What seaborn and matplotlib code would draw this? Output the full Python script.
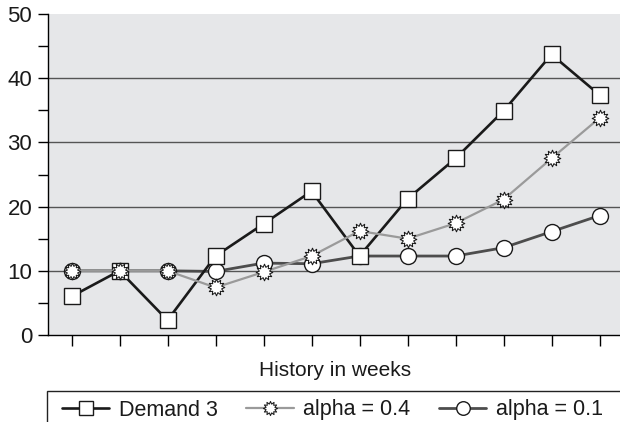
import matplotlib
matplotlib.use("Agg")
import matplotlib.pyplot as plt
from matplotlib.ticker import MultipleLocator
from matplotlib.lines import Line2D
from matplotlib.patches import Rectangle
from matplotlib.path import Path
import numpy as np
import pandas as pd
import seaborn as sns

# Weekly demand history and two exponential-smoothing forecasts
weeks = list(range(1, 13))
demand_3 = [6, 10, 2.3, 12.3, 17.3, 22.4, 12.3, 21.2, 27.5, 34.9, 43.7, 37.4]
alpha_04 = [10, 10, 10, 7.4, 9.8, 12.3, 16.2, 15.0, 17.4, 21.1, 27.5, 33.8]
alpha_01 = [10, 10, 10, 9.9, 11.2, 11.1, 12.3, 12.3, 12.3, 13.6, 16.1, 18.6]
series_labels = ["Demand 3", "alpha = 0.4", "alpha = 0.1"]
y_ticks = [0, 10, 20, 30, 40, 50]

sns.set_theme(style="ticks")
plt.rcParams["font.family"] = ["Liberation Sans", "DejaVu Sans"]

# spiky "burst" marker: 12 points with a wide inner body
n_pts = 12
ang = np.linspace(0, 2 * np.pi, 2 * n_pts, endpoint=False) + np.pi / 2
rad = np.where(np.arange(2 * n_pts) % 2 == 0, 1.0, 0.64)
verts = np.column_stack([rad * np.cos(ang), rad * np.sin(ang)])
verts = np.vstack([verts, verts[:1]])
burst = Path(verts, closed=True)

W, H = 620, 422
fig = plt.figure(figsize=(W / 100, H / 100), dpi=100)
ax = fig.add_axes([47.5 / W, 87 / H, 576 / W, 321 / H])
ax.set_facecolor("#e6e7e9")

df = pd.DataFrame({"week": weeks, series_labels[0]: demand_3,
                   series_labels[1]: alpha_04, series_labels[2]: alpha_01})

styles = {
    series_labels[0]: dict(color="#1a1a1a", lw=1.9, marker="s", ms=12, mew=1.0, z=3),
    series_labels[1]: dict(color="#9a9a9a", lw=1.6, marker=burst, ms=12, mew=0.75, z=4),
    series_labels[2]: dict(color="#4d4d4d", lw=2.0, marker="o", ms=11.5, mew=1.0, z=2),
}

# gridlines behind the data
for v in y_ticks[1:-1]:
    ax.axhline(v, color="#555555", lw=1.0, zorder=0.5)

for name in [series_labels[2], series_labels[1], series_labels[0]]:
    st = styles[name]
    sns.lineplot(data=df, x="week", y=name, ax=ax, color=st["color"],
                 linewidth=st["lw"], marker=st["marker"], markersize=st["ms"],
                 markerfacecolor="white", markeredgecolor="#1a1a1a",
                 markeredgewidth=st["mew"], zorder=st["z"])

handles = []
for name in series_labels:
    st = styles[name]
    handles.append(Line2D([0], [0], color=st["color"], lw=st["lw"],
                          marker=st["marker"], ms=st["ms"] * 0.85,
                          markerfacecolor="white", markeredgecolor="#1a1a1a",
                          markeredgewidth=st["mew"]))

ax.set_xlim(0.5, 12.5)
ax.set_ylim(0, 50)
ax.set_xticks(weeks)
ax.set_xticklabels([""] * len(weeks))
ax.set_yticks(y_ticks)
ax.yaxis.set_minor_locator(MultipleLocator(5))
ax.tick_params(axis="x", length=8, width=1, color="black", direction="out")
ax.tick_params(axis="y", which="both", length=7, width=1, color="black",
               direction="out", labelsize=16, pad=4, labelcolor="#1a1a1a")
ax.set_xlabel("History in weeks", fontsize=15, labelpad=7, color="#1a1a1a")
ax.set_ylabel("")

for s in ["top", "right"]:
    ax.spines[s].set_visible(False)
for s in ["left", "bottom"]:
    ax.spines[s].set_color("black")
    ax.spines[s].set_linewidth(1.0)

# legend frame running off the lower right of the figure
frame = Rectangle((47 / W, -0.1), 1.0, 1.1 - 390.5 / H,
                  transform=fig.transFigure, facecolor="white",
                  edgecolor="#222222", linewidth=1.0, zorder=1)
fig.add_artist(frame)

leg = fig.legend(handles, series_labels, loc="upper left",
                 bbox_to_anchor=(62 / W, 1 - 399.5 / H - 0.05,
                                 (603 - 62) / W, 0.05),
                 mode="expand", ncol=3, frameon=False,
                 borderaxespad=0, borderpad=0, handlelength=2.2,
                 handletextpad=0.45, columnspacing=0.75, fontsize=15.5,
                 numpoints=1)
leg.set_zorder(2)
for t in leg.get_texts():
    t.set_color("#1a1a1a")

fig.savefig("out.png", dpi=100)
